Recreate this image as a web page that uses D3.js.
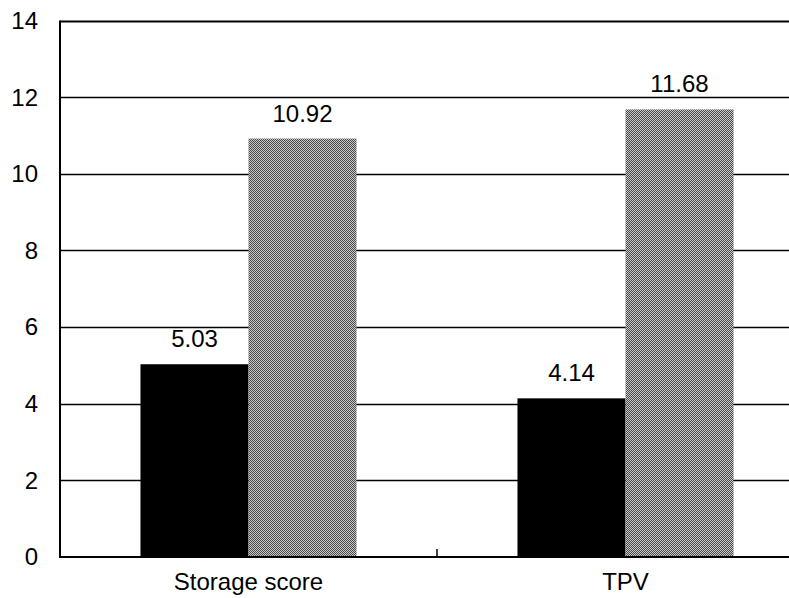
<!DOCTYPE html>
<html><head><meta charset="utf-8">
<script src="https://cdn.jsdelivr.net/npm/d3@7"></script>
<style>body{margin:0;background:#fff}svg{display:block}text{font-family:"Liberation Sans",Arial,sans-serif;fill:#000}</style>
</head><body><svg id="c" width="789" height="598"></svg>
<script>
const categories = ["Storage score", "TPV"];
const seriesNames = ["A", "B"];
const valuesA = [5.03, 4.14];
const valuesB = [10.92, 11.68];
const yTicks = [0, 2, 4, 6, 8, 10, 12, 14];

const svg = d3.select("#c");
const L = 60, R = 814, T = 20.5, B = 557;
const FS = 24;
const x0 = d3.scaleBand().domain(categories).range([L, R]).padding(0);
const x1 = d3.scaleBand().domain(seriesNames).range([0, x0.bandwidth()]).paddingInner(0).paddingOuter(0.745);
const y = d3.scaleLinear().domain([0, 14]).range([B, T]);

const defs = svg.append("defs");
const pat = defs.append("pattern").attr("id", "chk").attr("patternUnits", "userSpaceOnUse").attr("width", 2).attr("height", 2);
pat.append("rect").attr("width", 2).attr("height", 2).attr("fill", "#c8c8c8");
pat.append("rect").attr("width", 1).attr("height", 1).attr("fill", "#4a4a4a");
pat.append("rect").attr("x", 1).attr("y", 1).attr("width", 1).attr("height", 1).attr("fill", "#4a4a4a");

// gridlines
svg.append("g").selectAll("line").data(yTicks.filter(d => d > 0 && d < 14)).join("line")
  .attr("x1", L).attr("x2", R).attr("y1", d => Math.round(y(d)) + 0.5).attr("y2", d => Math.round(y(d)) + 0.5)
  .attr("stroke", "#000").attr("stroke-width", 1.3);
// top border
svg.append("line").attr("x1", L).attr("x2", R).attr("y1", y(14)+1).attr("y2", y(14)+1).attr("stroke", "#000").attr("stroke-width", 2);

// y tick labels
svg.append("g").selectAll("text").data(yTicks).join("text")
  .attr("x", 38).attr("y", d => y(d)).attr("dy", "0.35em").attr("text-anchor", "end")
  .attr("font-size", FS).text(d => d);

// bars
const data = categories.map((c, i) => ({c, vals: [{s: "A", v: valuesA[i]}, {s: "B", v: valuesB[i]}]}));
const g = svg.append("g").selectAll("g").data(data).join("g").attr("transform", d => `translate(${x0(d.c)},0)`);
g.selectAll("rect").data(d => d.vals).join("rect")
  .attr("x", d => x1(d.s)).attr("width", x1.bandwidth())
  .attr("y", d => y(d.v)).attr("height", d => B - y(d.v))
  .attr("fill", d => d.s === "A" ? "#000" : "url(#chk)");
g.selectAll("text").data(d => d.vals).join("text")
  .attr("x", d => x1(d.s) + x1.bandwidth() / 2).attr("y", d => y(d.v) - 17)
  .attr("text-anchor", "middle").attr("font-size", FS).text(d => d.v.toFixed(2));

// axes lines
svg.append("line").attr("x1", L).attr("x2", L).attr("y1", T).attr("y2", B+1).attr("stroke", "#000").attr("stroke-width", 2);
svg.append("line").attr("x1", L).attr("x2", R).attr("y1", B).attr("y2", B).attr("stroke", "#000").attr("stroke-width", 2);
// category boundary ticks
svg.append("g").selectAll("line").data(categories.slice(1)).join("line")
  .attr("x1", d => x0(d)).attr("x2", d => x0(d)).attr("y1", B).attr("y2", B - 8)
  .attr("stroke", "#000").attr("stroke-width", 1.5);
// category labels
svg.append("g").selectAll("text").data(categories).join("text")
  .attr("x", d => x0(d) + x0.bandwidth() / 2).attr("y", 590).attr("text-anchor", "middle")
  .attr("font-size", FS).text(d => d);
</script></body></html>
